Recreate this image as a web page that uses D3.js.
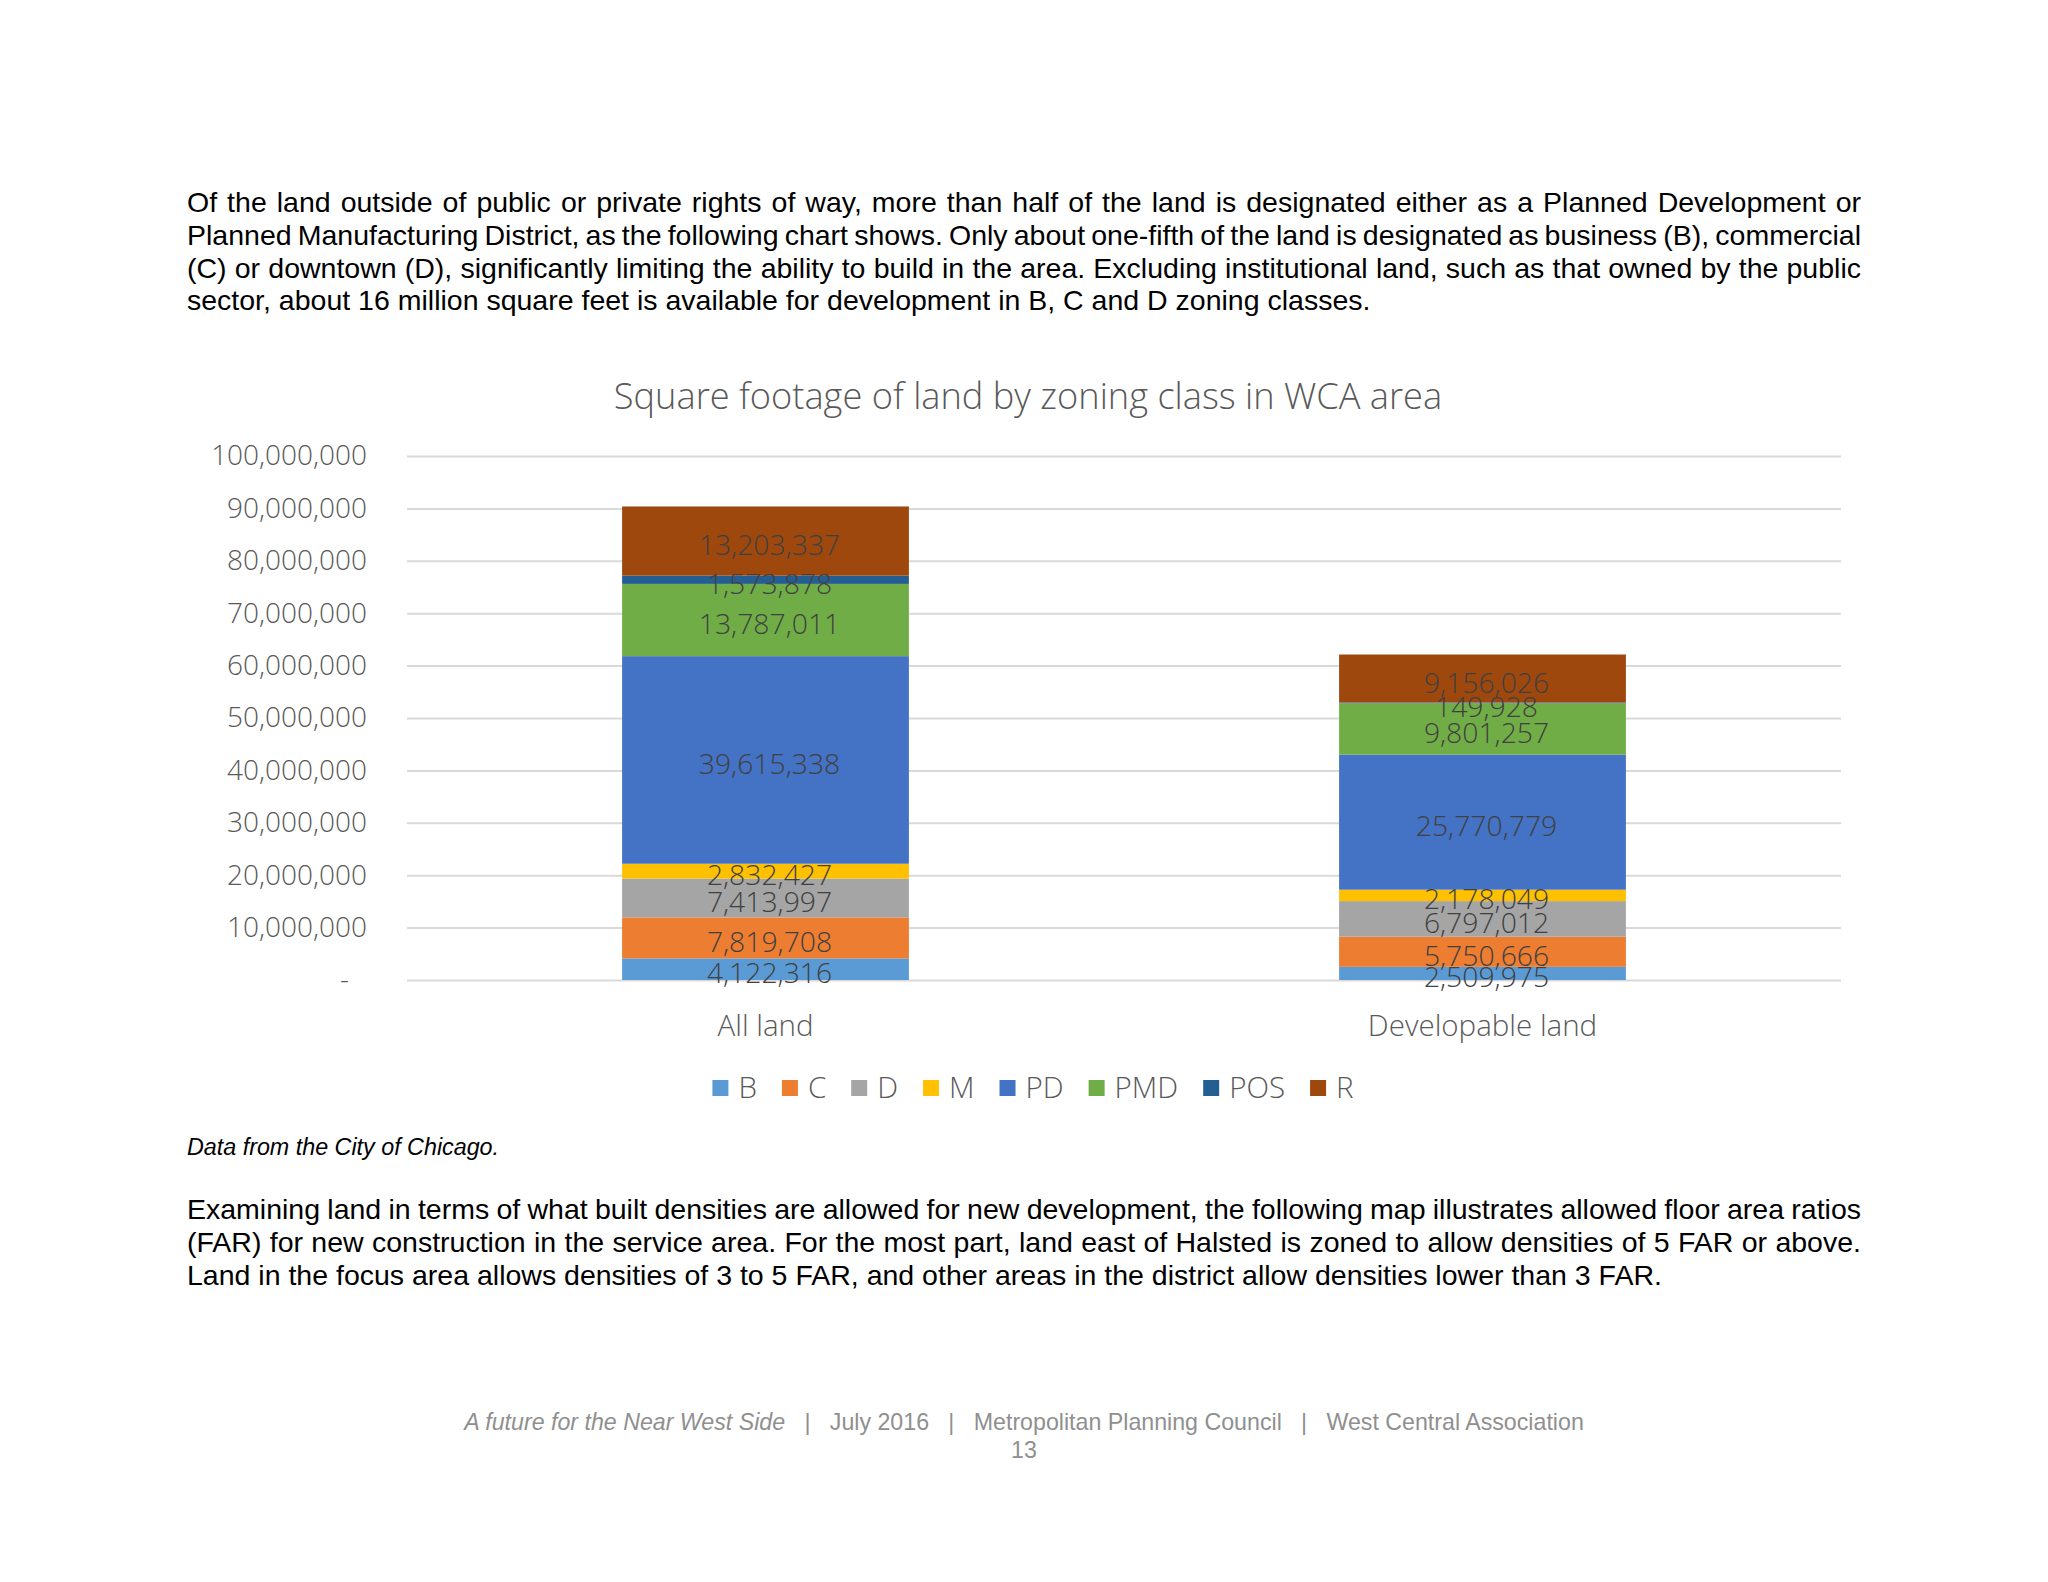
<!DOCTYPE html>
<html><head><meta charset="utf-8">
<script src="https://cdn.jsdelivr.net/npm/d3@7"></script>
<style>
body{margin:0;background:#fff;}
#page{position:relative;width:2048px;height:1582px;overflow:hidden;background:#fff;}
svg{position:absolute;left:0;top:0;}
.line{position:absolute;left:187px;font-family:"Liberation Sans",Arial,sans-serif;font-size:28.5px;line-height:32px;color:#000;white-space:nowrap;}
.cap{font-style:italic;font-size:23.3px;}
.foot{position:absolute;left:0;width:2048px;text-align:center;font-family:"Liberation Sans",Arial,sans-serif;font-size:23.2px;line-height:26px;color:#8f8f8f;white-space:pre;}
</style></head>
<body><div id="page"></div>
<script>
const categories = ["All land", "Developable land"];
const seriesNames = ["B", "C", "D", "M", "PD", "PMD", "POS", "R"];
const allLandValues = [4122316, 7819708, 7413997, 2832427, 39615338, 13787011, 1573878, 13203337];
const developableValues = [2509975, 5750666, 6797012, 2178049, 25770779, 9801257, 149928, 9156026];
const seriesColors = ["#5B9BD5", "#ED7D31", "#A5A5A5", "#FFC000", "#4472C4", "#70AD47", "#255E91", "#9E480E"];
const yTicks = [0, 10000000, 20000000, 30000000, 40000000, 50000000, 60000000, 70000000, 80000000, 90000000, 100000000];
const chartTitle = "Square footage of land by zoning class in WCA area";

const para1 = [
 "Of the land outside of public or private rights of way, more than half of the land is designated either as a Planned Development or",
 "Planned Manufacturing District, as the following chart shows. Only about one-fifth of the land is designated as business (B), commercial",
 "(C) or downtown (D), significantly limiting the ability to build in the area. Excluding institutional land, such as that owned by the public",
 "sector, about 16 million square feet is available for development in B, C and D zoning classes."
];
const caption = "Data from the City of Chicago.";
const para2 = [
 "Examining land in terms of what built densities are allowed for new development, the following map illustrates allowed floor area ratios",
 "(FAR) for new construction in the service area. For the most part, land east of Halsted is zoned to allow densities of 5 FAR or above.",
 "Land in the focus area allows densities of 3 to 5 FAR, and other areas in the district allow densities lower than 3 FAR."
];

const page = d3.select("#page");
const W = 2048, H = 1582;
const svg = page.append("svg").attr("width", W).attr("height", H);
svg.append("rect").attr("width", W).attr("height", H).attr("fill", "#fff");

const chartFont = "'Open Sans', 'Noto Sans', sans-serif";
const plot = {left: 407, right: 1841, top: 456, bottom: 980};

const x = d3.scaleBand().domain(categories).range([plot.left, plot.right]).paddingInner(0.6).paddingOuter(0.3);
const y = d3.scaleLinear().domain([0, 100000000]).range([plot.bottom, plot.top]);

// gridlines
const grid = svg.append("g").attr("transform", `translate(${plot.left},0)`)
  .call(d3.axisLeft(y).tickValues(yTicks).tickSize(-(plot.right - plot.left)).tickFormat(""));
grid.select(".domain").remove();
grid.selectAll("line").attr("stroke", "#D9D9D9").attr("stroke-width", 2);

// y axis labels
const yAxis = svg.append("g").attr("transform", `translate(${plot.left},0)`)
  .call(d3.axisLeft(y).tickValues(yTicks).tickSize(0).tickPadding(40)
    .tickFormat(d => d === 0 ? "-" : d3.format(",")(d)));
yAxis.select(".domain").remove();
yAxis.selectAll("text").attr("font-family", chartFont).attr("font-weight", 300)
  .attr("font-size", 28).attr("fill", "#595959")
  .attr("dx", d => d === 0 ? -18 : 0);

// stacked data
const valuesByCat = [allLandValues, developableValues];
const table = categories.map((c, i) => {
  const row = {category: c};
  seriesNames.forEach((s, j) => row[s] = valuesByCat[i][j]);
  return row;
});
const stacked = d3.stack().keys(seriesNames)(table);

const layers = svg.append("g").selectAll("g").data(stacked).join("g")
  .attr("fill", (d, i) => seriesColors[i]);
layers.selectAll("rect").data(d => d).join("rect")
  .attr("x", d => x(d.data.category))
  .attr("width", x.bandwidth())
  .attr("y", d => y(d[1]))
  .attr("height", d => y(d[0]) - y(d[1]));

// data labels
const labels = svg.append("g");
stacked.forEach(layer => {
  layer.forEach(d => {
    labels.append("text")
      .attr("x", x(d.data.category) + x.bandwidth() / 2 + 4)
      .attr("y", (y(d[0]) + y(d[1])) / 2 + 14)
      .attr("text-anchor", "middle")
      .attr("font-family", chartFont).attr("font-weight", 300)
      .attr("font-size", 28.3).attr("fill", "#404040")
      .text(d3.format(",")(d[1] - d[0]));
  });
});

// category axis
const xAxis = svg.append("g").attr("transform", `translate(0,${plot.bottom})`)
  .call(d3.axisBottom(x).tickSize(0).tickPadding(35));
xAxis.select(".domain").remove();
xAxis.selectAll("text").attr("font-family", chartFont).attr("font-weight", 300)
  .attr("font-size", 29.5).attr("fill", "#595959");

// title
svg.append("text").attr("x", 1028).attr("y", 409).attr("text-anchor", "middle")
  .attr("font-family", chartFont).attr("font-weight", 300)
  .attr("font-size", 36.2).attr("fill", "#595959").text(chartTitle);

// legend
const legend = svg.append("g");
const items = legend.selectAll("g").data(seriesNames).join("g");
items.append("rect").attr("width", 16).attr("height", 16).attr("y", -8)
  .attr("fill", (d, i) => seriesColors[i]);
items.append("text").attr("x", 26).attr("y", 10)
  .attr("font-family", chartFont).attr("font-weight", 300)
  .attr("font-size", 29.5).attr("fill", "#595959").text(d => d);
let pos = 0; const offs = [];
const gap = 25;
items.each(function(d) {
  offs.push(pos);
  const w = d3.select(this).select("text").node().getComputedTextLength();
  pos += 26 + w + gap;
});
const totalW = pos - gap;
const lx0 = 1033 - totalW / 2;
items.attr("transform", (d, i) => `translate(${lx0 + offs[i]},1088)`);

// page text
const textWidth = 1674;
function addLines(lines, centers) {
  lines.forEach((t, i) => {
    const div = page.append("div").attr("class", "line").style("top", (centers[i] - 16) + "px");
    const span = div.append("span").text(t);
    if (i < lines.length - 1) {
      const natural = span.node().getBoundingClientRect().width;
      const spaces = (t.match(/ /g) || []).length;
      span.style("word-spacing", ((textWidth - natural) / spaces) + "px");
    }
  });
}
addLines(para1, [202, 235, 268, 300]);
page.append("div").attr("class", "line cap").style("top", (1147 - 16) + "px").text(caption);
addLines(para2, [1209, 1242, 1275]);

const foot = page.append("div").attr("class", "foot").style("top", (1422 - 13) + "px");
foot.append("span").style("font-style", "italic").text("A future for the Near West Side");
foot.append("span").text("   |   July 2016   |   Metropolitan Planning Council   |   West Central Association");
page.append("div").attr("class", "foot").style("top", (1450 - 13) + "px").text("13");
</script>
</body></html>
